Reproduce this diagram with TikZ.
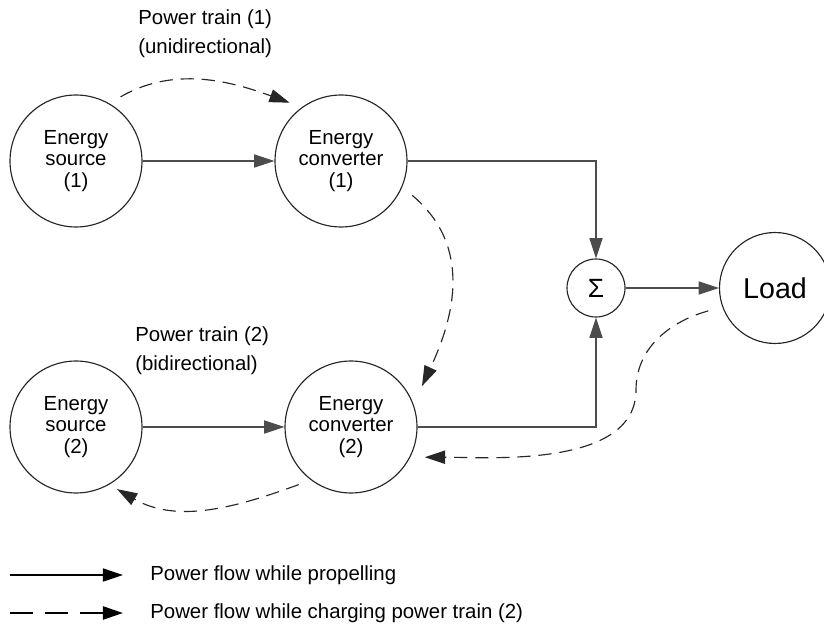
\documentclass[tikz,border=0pt]{standalone}
\usepackage{fontspec}
\setmainfont{Liberation Sans}
\usetikzlibrary{arrows.meta, positioning}

\begin{document}
\begin{tikzpicture}[
    x=0.02cm, y=-0.02cm,
    % 1. Circles for sources, converters, sum and load
    unit/.style={
        circle, draw=black!85, line width=0.65pt,
        minimum size=2.64cm, inner sep=0pt,
        align=center, font=\fontsize{11.6}{12.2}\selectfont
    },
    sum/.style={unit, minimum size=1.16cm, font=\fontsize{15}{15}\selectfont},
    sink/.style={unit, minimum size=2.22cm, font=\fontsize{16.3}{18}\selectfont},
    % 2. Power flow arrows
    flow/.style={
        -{Triangle[length=11.5pt, width=7.5pt]},
        line width=0.65pt, draw=black!70
    },
    charge/.style={
        flow, draw=black!85, dash pattern=on 7.5pt off 4.5pt,
        shorten <=0.26cm, shorten >=0.26cm
    },
    % 3. Plain texts
    note/.style={inner sep=0pt, align=left, anchor=west, font=\fontsize{11.6}{12.2}\selectfont}
]
    \useasboundingbox (0,0) rectangle (824,631);

    % --- POWER TRAIN 1 ---
    \node[unit] (src1) at (76,161) {Energy\\source\\(1)};
    \node[unit] (conv1) at (341,161) {Energy\\converter\\(1)};
    \node[note] (pt1) at (138,34) {Power train (1)\\[4.5pt](unidirectional)};

    \draw[flow] (src1) -- (conv1);
    \draw[charge] (src1.60) to[out=30, in=160] (conv1.126);

    % --- SUM AND LOAD ---
    \node[sum] (sigma) at (596,288) {Σ};
    \node[sink] (load) at (775,288) {Load};

    \draw[flow] (conv1) -| (sigma);
    \draw[flow] (sigma) -- (load);

    % --- POWER TRAIN 2 ---
    \node[unit] (src2) at (76,427) {Energy\\source\\(2)};
    \node[unit] (conv2) at (351,427) {Energy\\converter\\(2)};
    \node[note] (pt2) at (135,351) {Power train (2)\\[4.5pt](bidirectional)};

    \draw[flow] (src2) -- (conv2);
    \draw[flow] (conv2) -| (sigma);
    \draw[charge, shorten >=0.4cm] (conv1.-23) to[out=-40, in=65, looseness=1.1] (conv2.20);
    \draw[charge, shorten <=0.29cm, shorten >=0.29cm] (load.200) to[out=195, in=90] (636,390)
        to[out=-90, in=0, looseness=0.85] (conv2.-27);
    \draw[charge, shorten >=0.18cm] (conv2.-127) to[out=-160, in=-30] (src2.-60);

    % --- LEGEND ---
    \coordinate (keyA) at (10,575);
    \coordinate (keyB) at (123,575);
    \coordinate (keyC) at (10,613);
    \coordinate (keyD) at (123,613);

    \draw[flow, draw=black] (keyA) -- (keyB);
    \draw[flow, draw=black, line width=1.2pt, dash pattern=on 13pt off 7pt] (keyC) -- (keyD);
    \node[note, right=0.54cm of keyB] (key1) {Power flow while propelling};
    \node[note, right=0.54cm of keyD] (key2) {Power flow while charging power train (2)};

\end{tikzpicture}
\end{document}
